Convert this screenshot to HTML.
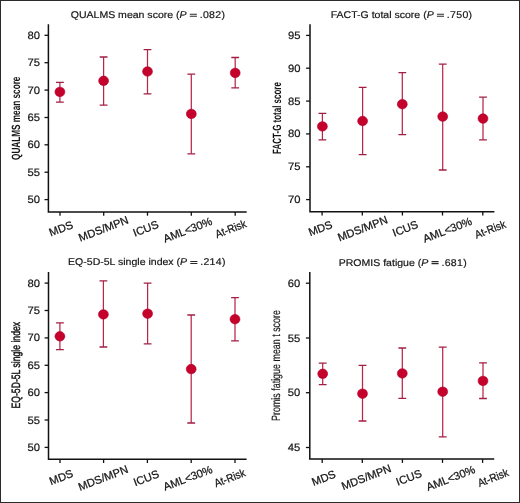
<!DOCTYPE html>
<html><head><meta charset="utf-8"><style>
html,body{margin:0;padding:0;background:#fff;}
#wrap{position:relative;width:520px;height:503px;overflow:hidden;background:#fff;}
#wrap svg{position:absolute;left:0;top:0;will-change:transform;}
#bd{position:absolute;left:0;top:0;width:520px;height:503px;box-sizing:border-box;border:1px solid #2b2b2b;}
text{text-rendering:geometricPrecision;font-family:"Liberation Sans",sans-serif;fill:#141414;stroke:#141414;stroke-width:0.25px;}
</style></head><body><div id="wrap">
<svg width="520" height="503" viewBox="0 0 520 503">
<g>
<path d="M48.40 24.20V211.90H246.70" fill="none" stroke="#111" stroke-width="1.5" stroke-linecap="butt" stroke-linejoin="miter"/>
<path d="M44.50 35.30H48.40" stroke="#111" stroke-width="1.3"/>
<text x="0" y="0" font-size="10.6" text-anchor="end" style="stroke-width:0.2px" transform="translate(39.90,38.89) scale(1.06,1)">80</text>
<path d="M44.50 62.70H48.40" stroke="#111" stroke-width="1.3"/>
<text x="0" y="0" font-size="10.6" text-anchor="end" style="stroke-width:0.2px" transform="translate(39.90,66.29) scale(1.06,1)">75</text>
<path d="M44.50 90.10H48.40" stroke="#111" stroke-width="1.3"/>
<text x="0" y="0" font-size="10.6" text-anchor="end" style="stroke-width:0.2px" transform="translate(39.90,93.69) scale(1.06,1)">70</text>
<path d="M44.50 117.50H48.40" stroke="#111" stroke-width="1.3"/>
<text x="0" y="0" font-size="10.6" text-anchor="end" style="stroke-width:0.2px" transform="translate(39.90,121.09) scale(1.06,1)">65</text>
<path d="M44.50 144.80H48.40" stroke="#111" stroke-width="1.3"/>
<text x="0" y="0" font-size="10.6" text-anchor="end" style="stroke-width:0.2px" transform="translate(39.90,148.39) scale(1.06,1)">60</text>
<path d="M44.50 172.20H48.40" stroke="#111" stroke-width="1.3"/>
<text x="0" y="0" font-size="10.6" text-anchor="end" style="stroke-width:0.2px" transform="translate(39.90,175.79) scale(1.06,1)">55</text>
<path d="M44.50 199.60H48.40" stroke="#111" stroke-width="1.3"/>
<text x="0" y="0" font-size="10.6" text-anchor="end" style="stroke-width:0.2px" transform="translate(39.90,203.19) scale(1.06,1)">50</text>
<path d="M60.00 211.90V215.70" stroke="#111" stroke-width="1.3"/>
<path d="M103.70 211.90V215.70" stroke="#111" stroke-width="1.3"/>
<path d="M147.50 211.90V215.70" stroke="#111" stroke-width="1.3"/>
<path d="M191.30 211.90V215.70" stroke="#111" stroke-width="1.3"/>
<path d="M235.20 211.90V215.70" stroke="#111" stroke-width="1.3"/>
<path d="M59.90 82.40V102.10" stroke="#b9264d" stroke-width="1.25" fill="none"/>
<path d="M56.00 82.40H63.80M56.00 102.10H63.80" stroke="#a21e42" stroke-width="1.3" fill="none"/>
<ellipse cx="59.90" cy="91.90" rx="4.95" ry="4.75" fill="#c4022c" stroke="#b0002a" stroke-width="0.6"/>
<path d="M103.60 57.00V105.10" stroke="#b9264d" stroke-width="1.25" fill="none"/>
<path d="M99.70 57.00H107.50M99.70 105.10H107.50" stroke="#a21e42" stroke-width="1.3" fill="none"/>
<ellipse cx="103.60" cy="80.80" rx="4.95" ry="4.75" fill="#c4022c" stroke="#b0002a" stroke-width="0.6"/>
<path d="M147.50 49.60V93.80" stroke="#b9264d" stroke-width="1.25" fill="none"/>
<path d="M143.60 49.60H151.40M143.60 93.80H151.40" stroke="#a21e42" stroke-width="1.3" fill="none"/>
<ellipse cx="147.50" cy="71.50" rx="4.95" ry="4.75" fill="#c4022c" stroke="#b0002a" stroke-width="0.6"/>
<path d="M191.30 74.20V153.80" stroke="#b9264d" stroke-width="1.25" fill="none"/>
<path d="M187.40 74.20H195.20M187.40 153.80H195.20" stroke="#a21e42" stroke-width="1.3" fill="none"/>
<ellipse cx="191.30" cy="113.90" rx="4.95" ry="4.75" fill="#c4022c" stroke="#b0002a" stroke-width="0.6"/>
<path d="M235.20 57.50V87.80" stroke="#b9264d" stroke-width="1.25" fill="none"/>
<path d="M231.30 57.50H239.10M231.30 87.80H239.10" stroke="#a21e42" stroke-width="1.3" fill="none"/>
<ellipse cx="235.20" cy="72.90" rx="4.95" ry="4.75" fill="#c4022c" stroke="#b0002a" stroke-width="0.6"/>
<text x="0" y="0" font-size="11.1" text-anchor="middle" transform="translate(60.90,228.50) rotate(-21) translate(0,3.97) scale(1,1)">MDS</text>
<text x="0" y="0" font-size="11.1" text-anchor="middle" transform="translate(103.40,228.60) rotate(-21) translate(0,3.97) scale(1,1)">MDS/MPN</text>
<text x="0" y="0" font-size="11.1" text-anchor="middle" transform="translate(145.70,228.40) rotate(-21) translate(0,3.97) scale(1,1)">ICUS</text>
<text x="0" y="0" font-size="11.1" text-anchor="middle" transform="translate(187.60,229.80) rotate(-21) translate(0,3.97) scale(1,1)">AML&lt;30%</text>
<text x="0" y="0" font-size="11.1" text-anchor="middle" transform="translate(230.70,228.70) rotate(-21) translate(0,3.97) scale(0.9,1)">At-Risk</text>
<text x="0" y="0" font-size="9.8" text-anchor="end" style="stroke-width:0.18px" transform="translate(186.60,18.10) scale(1.075,1)">QUALMS mean score (<tspan font-style="italic">P</tspan></text>
<text x="0" y="0" font-size="9.8" text-anchor="end" letter-spacing="0.3" style="stroke-width:0.18px" transform="translate(225.00,18.10) scale(1.075,1)">.082<tspan letter-spacing="0">)</tspan></text>
<path d="M189.80 14.20H196.90M189.80 16.20H196.90" stroke="#2a2a2a" stroke-width="1.05"/>
<text x="0" y="0" font-size="12.0" text-anchor="middle" font-weight="bold" style="stroke-width:0px" transform="translate(19.90,118.30) rotate(-90) scale(0.6834,1)">QUALMS mean score</text>
</g>
<g>
<path d="M310.00 24.20V211.70H494.40" fill="none" stroke="#111" stroke-width="1.5" stroke-linecap="butt" stroke-linejoin="miter"/>
<path d="M306.10 35.40H310.00" stroke="#111" stroke-width="1.3"/>
<text x="0" y="0" font-size="10.6" text-anchor="end" style="stroke-width:0.2px" transform="translate(300.40,38.99) scale(1.06,1)">95</text>
<path d="M306.10 68.20H310.00" stroke="#111" stroke-width="1.3"/>
<text x="0" y="0" font-size="10.6" text-anchor="end" style="stroke-width:0.2px" transform="translate(300.40,71.79) scale(1.06,1)">90</text>
<path d="M306.10 101.10H310.00" stroke="#111" stroke-width="1.3"/>
<text x="0" y="0" font-size="10.6" text-anchor="end" style="stroke-width:0.2px" transform="translate(300.40,104.69) scale(1.06,1)">85</text>
<path d="M306.10 133.90H310.00" stroke="#111" stroke-width="1.3"/>
<text x="0" y="0" font-size="10.6" text-anchor="end" style="stroke-width:0.2px" transform="translate(300.40,137.49) scale(1.06,1)">80</text>
<path d="M306.10 166.80H310.00" stroke="#111" stroke-width="1.3"/>
<text x="0" y="0" font-size="10.6" text-anchor="end" style="stroke-width:0.2px" transform="translate(300.40,170.39) scale(1.06,1)">75</text>
<path d="M306.10 199.60H310.00" stroke="#111" stroke-width="1.3"/>
<text x="0" y="0" font-size="10.6" text-anchor="end" style="stroke-width:0.2px" transform="translate(300.40,203.19) scale(1.06,1)">70</text>
<path d="M322.10 211.70V215.50" stroke="#111" stroke-width="1.3"/>
<path d="M362.30 211.70V215.50" stroke="#111" stroke-width="1.3"/>
<path d="M402.40 211.70V215.50" stroke="#111" stroke-width="1.3"/>
<path d="M442.50 211.70V215.50" stroke="#111" stroke-width="1.3"/>
<path d="M482.80 211.70V215.50" stroke="#111" stroke-width="1.3"/>
<path d="M322.40 113.30V139.90" stroke="#b9264d" stroke-width="1.25" fill="none"/>
<path d="M318.50 113.30H326.30M318.50 139.90H326.30" stroke="#a21e42" stroke-width="1.3" fill="none"/>
<ellipse cx="322.40" cy="126.40" rx="4.95" ry="4.75" fill="#c4022c" stroke="#b0002a" stroke-width="0.6"/>
<path d="M362.60 87.40V154.60" stroke="#b9264d" stroke-width="1.25" fill="none"/>
<path d="M358.70 87.40H366.50M358.70 154.60H366.50" stroke="#a21e42" stroke-width="1.3" fill="none"/>
<ellipse cx="362.60" cy="121.00" rx="4.95" ry="4.75" fill="#c4022c" stroke="#b0002a" stroke-width="0.6"/>
<path d="M402.30 72.70V134.70" stroke="#b9264d" stroke-width="1.25" fill="none"/>
<path d="M398.40 72.70H406.20M398.40 134.70H406.20" stroke="#a21e42" stroke-width="1.3" fill="none"/>
<ellipse cx="402.30" cy="104.20" rx="4.95" ry="4.75" fill="#c4022c" stroke="#b0002a" stroke-width="0.6"/>
<path d="M442.70 64.20V170.00" stroke="#b9264d" stroke-width="1.25" fill="none"/>
<path d="M438.80 64.20H446.60M438.80 170.00H446.60" stroke="#a21e42" stroke-width="1.3" fill="none"/>
<ellipse cx="442.70" cy="116.60" rx="4.95" ry="4.75" fill="#c4022c" stroke="#b0002a" stroke-width="0.6"/>
<path d="M483.00 97.20V139.80" stroke="#b9264d" stroke-width="1.25" fill="none"/>
<path d="M479.10 97.20H486.90M479.10 139.80H486.90" stroke="#a21e42" stroke-width="1.3" fill="none"/>
<ellipse cx="483.00" cy="118.60" rx="4.95" ry="4.75" fill="#c4022c" stroke="#b0002a" stroke-width="0.6"/>
<text x="0" y="0" font-size="11.1" text-anchor="middle" transform="translate(320.30,228.20) rotate(-21) translate(0,3.97) scale(1,1)">MDS</text>
<text x="0" y="0" font-size="11.1" text-anchor="middle" transform="translate(362.50,228.40) rotate(-21) translate(0,3.97) scale(1,1)">MDS/MPN</text>
<text x="0" y="0" font-size="11.1" text-anchor="middle" transform="translate(405.20,228.40) rotate(-21) translate(0,3.97) scale(1,1)">ICUS</text>
<text x="0" y="0" font-size="11.1" text-anchor="middle" transform="translate(447.30,229.70) rotate(-21) translate(0,3.97) scale(1,1)">AML&lt;30%</text>
<text x="0" y="0" font-size="11.1" text-anchor="middle" transform="translate(490.10,229.20) rotate(-21) translate(0,3.97) scale(0.9,1)">At-Risk</text>
<text x="0" y="0" font-size="9.8" text-anchor="end" style="stroke-width:0.18px" transform="translate(433.70,18.10) scale(1.075,1)">FACT-G total score (<tspan font-style="italic">P</tspan></text>
<text x="0" y="0" font-size="9.8" text-anchor="end" letter-spacing="0.3" style="stroke-width:0.18px" transform="translate(472.10,18.10) scale(1.075,1)">.750<tspan letter-spacing="0">)</tspan></text>
<path d="M436.90 14.20H444.00M436.90 16.20H444.00" stroke="#2a2a2a" stroke-width="1.05"/>
<text x="0" y="0" font-size="12.0" text-anchor="middle" font-weight="bold" style="stroke-width:0px" transform="translate(281.00,118.00) rotate(-90) scale(0.6647,1)">FACT-G total score</text>
</g>
<g>
<path d="M48.50 272.10V459.20H246.60" fill="none" stroke="#111" stroke-width="1.5" stroke-linecap="butt" stroke-linejoin="miter"/>
<path d="M44.60 283.10H48.50" stroke="#111" stroke-width="1.3"/>
<text x="0" y="0" font-size="10.6" text-anchor="end" style="stroke-width:0.2px" transform="translate(40.00,286.69) scale(1.06,1)">80</text>
<path d="M44.60 310.50H48.50" stroke="#111" stroke-width="1.3"/>
<text x="0" y="0" font-size="10.6" text-anchor="end" style="stroke-width:0.2px" transform="translate(40.00,314.09) scale(1.06,1)">75</text>
<path d="M44.60 337.90H48.50" stroke="#111" stroke-width="1.3"/>
<text x="0" y="0" font-size="10.6" text-anchor="end" style="stroke-width:0.2px" transform="translate(40.00,341.49) scale(1.06,1)">70</text>
<path d="M44.60 365.30H48.50" stroke="#111" stroke-width="1.3"/>
<text x="0" y="0" font-size="10.6" text-anchor="end" style="stroke-width:0.2px" transform="translate(40.00,368.89) scale(1.06,1)">65</text>
<path d="M44.60 392.60H48.50" stroke="#111" stroke-width="1.3"/>
<text x="0" y="0" font-size="10.6" text-anchor="end" style="stroke-width:0.2px" transform="translate(40.00,396.19) scale(1.06,1)">60</text>
<path d="M44.60 420.00H48.50" stroke="#111" stroke-width="1.3"/>
<text x="0" y="0" font-size="10.6" text-anchor="end" style="stroke-width:0.2px" transform="translate(40.00,423.59) scale(1.06,1)">55</text>
<path d="M44.60 447.40H48.50" stroke="#111" stroke-width="1.3"/>
<text x="0" y="0" font-size="10.6" text-anchor="end" style="stroke-width:0.2px" transform="translate(40.00,450.99) scale(1.06,1)">50</text>
<path d="M60.00 459.20V463.00" stroke="#111" stroke-width="1.3"/>
<path d="M103.60 459.20V463.00" stroke="#111" stroke-width="1.3"/>
<path d="M147.40 459.20V463.00" stroke="#111" stroke-width="1.3"/>
<path d="M191.20 459.20V463.00" stroke="#111" stroke-width="1.3"/>
<path d="M235.00 459.20V463.00" stroke="#111" stroke-width="1.3"/>
<path d="M59.90 322.90V349.60" stroke="#b9264d" stroke-width="1.25" fill="none"/>
<path d="M56.00 322.90H63.80M56.00 349.60H63.80" stroke="#a21e42" stroke-width="1.3" fill="none"/>
<ellipse cx="59.90" cy="336.30" rx="4.95" ry="4.75" fill="#c4022c" stroke="#b0002a" stroke-width="0.6"/>
<path d="M103.40 280.90V347.00" stroke="#b9264d" stroke-width="1.25" fill="none"/>
<path d="M99.50 280.90H107.30M99.50 347.00H107.30" stroke="#a21e42" stroke-width="1.3" fill="none"/>
<ellipse cx="103.40" cy="314.40" rx="4.95" ry="4.75" fill="#c4022c" stroke="#b0002a" stroke-width="0.6"/>
<path d="M147.60 283.10V343.90" stroke="#b9264d" stroke-width="1.25" fill="none"/>
<path d="M143.70 283.10H151.50M143.70 343.90H151.50" stroke="#a21e42" stroke-width="1.3" fill="none"/>
<ellipse cx="147.60" cy="313.70" rx="4.95" ry="4.75" fill="#c4022c" stroke="#b0002a" stroke-width="0.6"/>
<path d="M191.20 315.00V423.00" stroke="#b9264d" stroke-width="1.25" fill="none"/>
<path d="M187.30 315.00H195.10M187.30 423.00H195.10" stroke="#a21e42" stroke-width="1.3" fill="none"/>
<ellipse cx="191.20" cy="369.10" rx="4.95" ry="4.75" fill="#c4022c" stroke="#b0002a" stroke-width="0.6"/>
<path d="M235.00 297.60V340.90" stroke="#b9264d" stroke-width="1.25" fill="none"/>
<path d="M231.10 297.60H238.90M231.10 340.90H238.90" stroke="#a21e42" stroke-width="1.3" fill="none"/>
<ellipse cx="235.00" cy="319.20" rx="4.95" ry="4.75" fill="#c4022c" stroke="#b0002a" stroke-width="0.6"/>
<text x="0" y="0" font-size="11.1" text-anchor="middle" transform="translate(61.10,477.10) rotate(-21) translate(0,3.97) scale(1,1)">MDS</text>
<text x="0" y="0" font-size="11.1" text-anchor="middle" transform="translate(103.00,477.80) rotate(-21) translate(0,3.97) scale(1,1)">MDS/MPN</text>
<text x="0" y="0" font-size="11.1" text-anchor="middle" transform="translate(146.10,477.90) rotate(-21) translate(0,3.97) scale(1,1)">ICUS</text>
<text x="0" y="0" font-size="11.1" text-anchor="middle" transform="translate(187.70,477.90) rotate(-21) translate(0,3.97) scale(1,1)">AML&lt;30%</text>
<text x="0" y="0" font-size="11.1" text-anchor="middle" transform="translate(229.60,477.80) rotate(-21) translate(0,3.97) scale(0.9,1)">At-Risk</text>
<text x="0" y="0" font-size="9.8" text-anchor="end" style="stroke-width:0.18px" transform="translate(187.10,265.40) scale(1.075,1)">EQ-5D-5L single index (<tspan font-style="italic">P</tspan></text>
<text x="0" y="0" font-size="9.8" text-anchor="end" letter-spacing="0.3" style="stroke-width:0.18px" transform="translate(225.50,265.40) scale(1.075,1)">.214<tspan letter-spacing="0">)</tspan></text>
<path d="M190.30 261.50H197.40M190.30 263.50H197.40" stroke="#2a2a2a" stroke-width="1.05"/>
<text x="0" y="0" font-size="12.0" text-anchor="middle" font-weight="normal" style="stroke-width:0.45px" transform="translate(19.90,365.20) rotate(-90) scale(0.7200,1)">EQ-5D-5L single index</text>
</g>
<g>
<path d="M309.80 272.10V459.10H494.20" fill="none" stroke="#111" stroke-width="1.5" stroke-linecap="butt" stroke-linejoin="miter"/>
<path d="M305.90 283.20H309.80" stroke="#111" stroke-width="1.3"/>
<text x="0" y="0" font-size="10.6" text-anchor="end" style="stroke-width:0.2px" transform="translate(300.20,286.79) scale(1.06,1)">60</text>
<path d="M305.90 338.00H309.80" stroke="#111" stroke-width="1.3"/>
<text x="0" y="0" font-size="10.6" text-anchor="end" style="stroke-width:0.2px" transform="translate(300.20,341.59) scale(1.06,1)">55</text>
<path d="M305.90 392.70H309.80" stroke="#111" stroke-width="1.3"/>
<text x="0" y="0" font-size="10.6" text-anchor="end" style="stroke-width:0.2px" transform="translate(300.20,396.29) scale(1.06,1)">50</text>
<path d="M305.90 447.50H309.80" stroke="#111" stroke-width="1.3"/>
<text x="0" y="0" font-size="10.6" text-anchor="end" style="stroke-width:0.2px" transform="translate(300.20,451.09) scale(1.06,1)">45</text>
<path d="M322.20 459.10V462.90" stroke="#111" stroke-width="1.3"/>
<path d="M362.30 459.10V462.90" stroke="#111" stroke-width="1.3"/>
<path d="M402.40 459.10V462.90" stroke="#111" stroke-width="1.3"/>
<path d="M442.50 459.10V462.90" stroke="#111" stroke-width="1.3"/>
<path d="M482.60 459.10V462.90" stroke="#111" stroke-width="1.3"/>
<path d="M322.70 363.10V384.70" stroke="#b9264d" stroke-width="1.25" fill="none"/>
<path d="M318.80 363.10H326.60M318.80 384.70H326.60" stroke="#a21e42" stroke-width="1.3" fill="none"/>
<ellipse cx="322.70" cy="373.80" rx="4.95" ry="4.75" fill="#c4022c" stroke="#b0002a" stroke-width="0.6"/>
<path d="M362.50 365.30V421.00" stroke="#b9264d" stroke-width="1.25" fill="none"/>
<path d="M358.60 365.30H366.40M358.60 421.00H366.40" stroke="#a21e42" stroke-width="1.3" fill="none"/>
<ellipse cx="362.50" cy="393.70" rx="4.95" ry="4.75" fill="#c4022c" stroke="#b0002a" stroke-width="0.6"/>
<path d="M402.30 348.00V398.30" stroke="#b9264d" stroke-width="1.25" fill="none"/>
<path d="M398.40 348.00H406.20M398.40 398.30H406.20" stroke="#a21e42" stroke-width="1.3" fill="none"/>
<ellipse cx="402.30" cy="373.40" rx="4.95" ry="4.75" fill="#c4022c" stroke="#b0002a" stroke-width="0.6"/>
<path d="M442.70 347.10V436.90" stroke="#b9264d" stroke-width="1.25" fill="none"/>
<path d="M438.80 347.10H446.60M438.80 436.90H446.60" stroke="#a21e42" stroke-width="1.3" fill="none"/>
<ellipse cx="442.70" cy="391.70" rx="4.95" ry="4.75" fill="#c4022c" stroke="#b0002a" stroke-width="0.6"/>
<path d="M483.00 362.80V398.50" stroke="#b9264d" stroke-width="1.25" fill="none"/>
<path d="M479.10 362.80H486.90M479.10 398.50H486.90" stroke="#a21e42" stroke-width="1.3" fill="none"/>
<ellipse cx="483.00" cy="380.90" rx="4.95" ry="4.75" fill="#c4022c" stroke="#b0002a" stroke-width="0.6"/>
<text x="0" y="0" font-size="11.1" text-anchor="middle" transform="translate(323.60,477.90) rotate(-21) translate(0,3.97) scale(1,1)">MDS</text>
<text x="0" y="0" font-size="11.1" text-anchor="middle" transform="translate(366.20,477.10) rotate(-21) translate(0,3.97) scale(1,1)">MDS/MPN</text>
<text x="0" y="0" font-size="11.1" text-anchor="middle" transform="translate(408.80,477.40) rotate(-21) translate(0,3.97) scale(1,1)">ICUS</text>
<text x="0" y="0" font-size="11.1" text-anchor="middle" transform="translate(450.60,478.10) rotate(-21) translate(0,3.97) scale(1,1)">AML&lt;30%</text>
<text x="0" y="0" font-size="11.1" text-anchor="middle" transform="translate(493.00,477.60) rotate(-21) translate(0,3.97) scale(0.9,1)">At-Risk</text>
<text x="0" y="0" font-size="9.8" text-anchor="end" style="stroke-width:0.18px" transform="translate(428.30,265.50) scale(1.075,1)">PROMIS fatigue (<tspan font-style="italic">P</tspan></text>
<text x="0" y="0" font-size="9.8" text-anchor="end" letter-spacing="0.3" style="stroke-width:0.18px" transform="translate(466.70,265.50) scale(1.075,1)">.681<tspan letter-spacing="0">)</tspan></text>
<path d="M431.50 261.60H438.60M431.50 263.60H438.60" stroke="#2a2a2a" stroke-width="1.05"/>
<text x="0" y="0" font-size="12.0" text-anchor="middle" font-weight="normal" style="stroke-width:0.15px" transform="translate(280.00,365.50) rotate(-90) scale(0.7424,1)">Promis fatigue mean t score</text>
</g>
</svg><div id="bd"></div></div></body></html>
